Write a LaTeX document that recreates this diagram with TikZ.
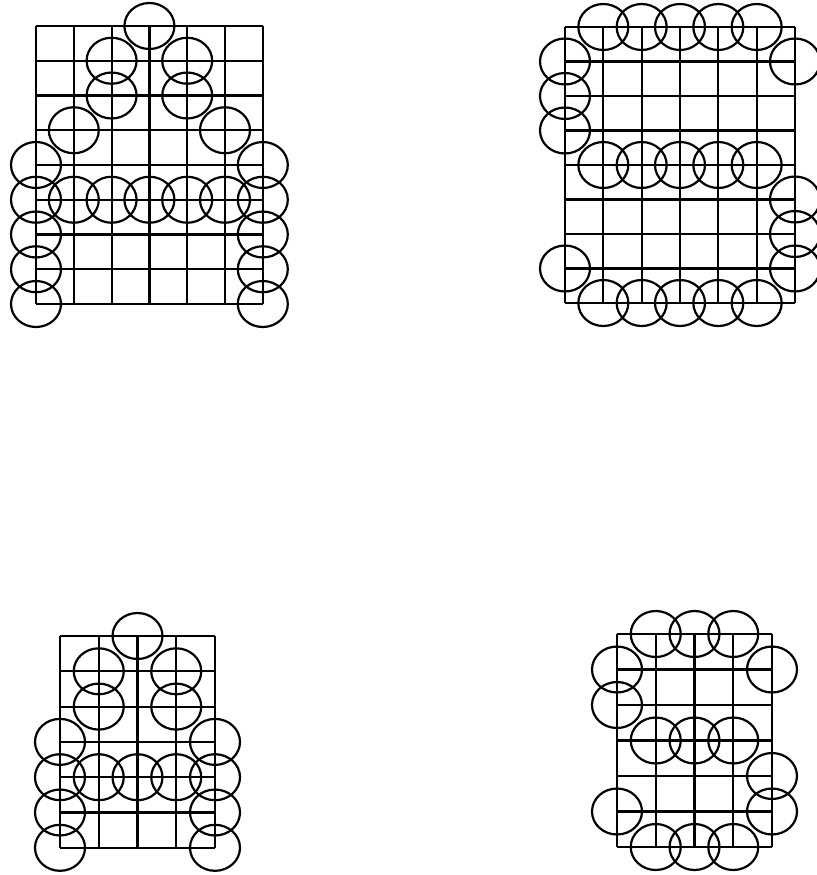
\documentclass[tikz,border=0pt]{standalone}
\begin{document}
\begin{tikzpicture}[
    x=1bp, y=-1bp,
    gridline/.style={draw=black, line width=2.2bp},
    ring/.style={draw=black, line width=2.2bp, x radius=25bp, y radius=23bp}
]
\useasboundingbox (0,0) rectangle (817,875);

% --- LETTER A (6 x 8 grid) ---
\begin{scope}[shift={(36,26)}, x=37.8bp, y=-34.75bp]
  \foreach \i in {0,...,6} \draw[gridline] (\i,0) -- (\i,8);
  \foreach \j in {0,...,8} \draw[gridline] (0,\j) -- (6,\j);
  \foreach \c/\r in {3/0, 2/1, 4/1, 2/2, 4/2, 1/3, 5/3,
                     0/4, 0/5, 0/6, 0/7, 0/8, 6/4, 6/5, 6/6, 6/7, 6/8,
                     1/5, 2/5, 3/5, 4/5, 5/5}
    \draw[ring] (\c,\r) circle;
\end{scope}

% --- LETTER S (6 x 8 grid) ---
\begin{scope}[shift={(565,27)}, x=38.33bp, y=-34.5bp]
  \foreach \i in {0,...,6} \draw[gridline] (\i,0) -- (\i,8);
  \foreach \j in {0,...,8} \draw[gridline] (0,\j) -- (6,\j);
  \foreach \c/\r in {1/0, 2/0, 3/0, 4/0, 5/0, 6/1, 0/1, 0/2, 0/3,
                     1/4, 2/4, 3/4, 4/4, 5/4, 6/5, 6/6, 6/7, 0/7,
                     1/8, 2/8, 3/8, 4/8, 5/8}
    \draw[ring] (\c,\r) circle;
\end{scope}

% --- LETTER A (4 x 6 grid) ---
\begin{scope}[shift={(60,636)}, x=38.75bp, y=-35.3bp]
  \foreach \i in {0,...,4} \draw[gridline] (\i,0) -- (\i,6);
  \foreach \j in {0,...,6} \draw[gridline] (0,\j) -- (4,\j);
  \foreach \c/\r in {2/0, 1/1, 3/1, 1/2, 3/2,
                     0/3, 0/4, 0/5, 0/6, 4/3, 4/4, 4/5, 4/6,
                     1/4, 2/4, 3/4}
    \draw[ring] (\c,\r) circle;
\end{scope}

% --- LETTER S (4 x 6 grid) ---
\begin{scope}[shift={(617,634)}, x=38.75bp, y=-35.5bp]
  \foreach \i in {0,...,4} \draw[gridline] (\i,0) -- (\i,6);
  \foreach \j in {0,...,6} \draw[gridline] (0,\j) -- (4,\j);
  \foreach \c/\r in {1/0, 2/0, 3/0, 0/1, 0/2, 4/1,
                     1/3, 2/3, 3/3, 4/4, 4/5, 0/5,
                     1/6, 2/6, 3/6}
    \draw[ring] (\c,\r) circle;
\end{scope}

\end{tikzpicture}
\end{document}
